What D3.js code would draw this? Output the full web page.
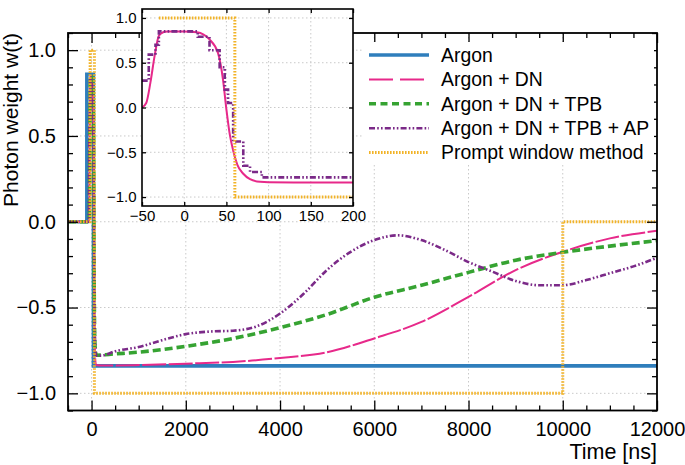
<!DOCTYPE html>
<html><head><meta charset="utf-8">
<script src="https://cdn.jsdelivr.net/npm/d3@7"></script>
<style>
html,body{margin:0;padding:0;background:#fff;}
svg{display:block;}
text{font-family:'Liberation Sans',Arial,Helvetica,sans-serif;fill:#000;}
</style>
</head><body><div id="chart"></div>
<script>
// ---------- data ----------
const seriesNames = ["Argon", "Argon + DN", "Argon + DN + TPB", "Argon + DN + TPB + AP", "Prompt window method"];

const argonT = [-500, -100, 40, 12000];
const argonW = [0, 0.86, -0.84, -0.84];

const dnT = [-500, -50, -45, -40, -35, -30, -25, -20, 0, 15, 30, 40, 46, 50, 54, 58, 63, 70, 78, 90, 100, 200, 1000, 2000, 3000, 4000, 5000, 6000, 7000, 8000, 9000, 10000, 11000, 12000];
const dnW = [0, 0, 0.05, 0.28, 0.58, 0.80, 0.84, 0.85, 0.85, 0.84, 0.76, 0.61, 0.31, -0.02, -0.30, -0.48, -0.64, -0.74, -0.80, -0.83, -0.835, -0.838, -0.835, -0.827, -0.817, -0.794, -0.76, -0.68, -0.584, -0.438, -0.282, -0.175, -0.097, -0.053];

const tpbT = [-500, -50, -45, -40, -35, -30, -25, -20, 15, 30, 40, 46, 50, 57, 70, 90, 100, 500, 1000, 2000, 3000, 4000, 5000, 6000, 7000, 8000, 9000, 10000, 11000, 12000];
const tpbW = [0, 0, 0.05, 0.28, 0.58, 0.80, 0.84, 0.85, 0.84, 0.76, 0.61, 0.31, 0, -0.42, -0.70, -0.77, -0.778, -0.77, -0.76, -0.726, -0.68, -0.617, -0.54, -0.44, -0.37, -0.295, -0.224, -0.178, -0.142, -0.11];

const apT = [-500, -56, -52, -42, -34, -30, 16, 30, 42, 48, 52, 58, 70, 78, 92, 200, 500, 1000, 1500, 2000, 2500, 3000, 3500, 4000, 4500, 5000, 5500, 6000, 6500, 7000, 7500, 8000, 8500, 9000, 9500, 10000, 10500, 11000, 11500, 12000];
const apW = [0, 0, 0.30, 0.59, 0.70, 0.85, 0.79, 0.64, 0.45, 0.20, 0.05, -0.38, -0.65, -0.72, -0.78, -0.78, -0.755, -0.73, -0.69, -0.655, -0.64, -0.635, -0.61, -0.535, -0.42, -0.28, -0.175, -0.107, -0.079, -0.107, -0.165, -0.235, -0.29, -0.345, -0.37, -0.37, -0.34, -0.30, -0.26, -0.21];

const promptT = [-500, -30, 60, 10000, 12000];
const promptW = [0, 1, -1, 0, 0];

const xTicksMain = [0, 2000, 4000, 6000, 8000, 10000, 12000];
const yTicksMain = [-1, -0.5, 0, 0.5, 1];
const xTicksInset = [-50, 0, 50, 100, 150, 200];
const yTicksInset = [-1, -0.5, 0, 0.5, 1];
const xLabel = "Time [ns]";
const yLabel = "Photon weight w(t)";

// ---------- styles ----------
const styles = [
  {color: "#2f7ebc", width: 3.6, dashMain: null, dashLeg: null, curve: d3.curveStepAfter},
  {color: "#e7298a", width: 2.0, dashMain: "24,2.5", dashLeg: "24,7", curve: d3.curveMonotoneX},
  {color: "#36a332", width: 3.6, dashMain: "8,4", dashLeg: "7,4.5", curve: d3.curveMonotoneX},
  {color: "#7b2a88", width: 2.6, dashMain: "6,2.2,1.6,2.2,1.6,2.2", dashLeg: "6,2.2,1.6,2.2,1.6,2.2", curve: d3.curveMonotoneX},
  {color: "#f2b327", width: 3.0, dashMain: "1.6,1.4", dashLeg: "1.6,1.4", curve: d3.curveStepAfter}
];
const toPts = (T, Wv) => T.map((t, i) => ({t, w: Wv[i]}));
const series = [
  toPts(argonT, argonW), toPts(dnT, dnW), toPts(tpbT, tpbW), toPts(apT, apW), toPts(promptT, promptW)
];

const W = 685, H = 465;
const svg = d3.select("#chart").append("svg").attr("width", W).attr("height", H);
const gridCol = "#c9c9c9";

// ---------- main axes ----------
const M = {left: 68, right: 657, top: 33, bottom: 410.5};
const x = d3.scaleLinear().domain([-500, 12000]).range([M.left, M.right]);
const y = d3.scaleLinear().domain([-1.1, 1.1]).range([M.bottom, M.top]);

svg.append("defs").append("clipPath").attr("id", "clipMain")
  .append("rect").attr("x", M.left).attr("y", M.top).attr("width", M.right - M.left).attr("height", M.bottom - M.top);

const grid = svg.append("g");
grid.selectAll(".gx").data(xTicksMain.filter(v => v < 12000)).join("line")
  .attr("x1", d => x(d)).attr("x2", d => x(d)).attr("y1", M.top).attr("y2", M.bottom)
  .attr("stroke", gridCol).attr("stroke-width", 1).attr("stroke-dasharray", "1.5,2.5");
grid.selectAll(".gy").data(yTicksMain).join("line")
  .attr("y1", d => y(d)).attr("y2", d => y(d)).attr("x1", M.left).attr("x2", M.right)
  .attr("stroke", gridCol).attr("stroke-width", 1).attr("stroke-dasharray", "1.5,2.5");

const gLines = svg.append("g").attr("clip-path", "url(#clipMain)");
series.forEach((pts, i) => {
  const st = styles[i];
  gLines.append("path").datum(pts)
    .attr("d", d3.line().x(d => x(d.t)).y(d => y(d.w)).curve(st.curve))
    .attr("fill", "none").attr("stroke", st.color).attr("stroke-width", st.width)
    .attr("stroke-dasharray", st.dashMain);
});

// axes (inward ticks)
const xMinor = d3.range(-500, 12001, 500).filter(v => !xTicksMain.includes(v));
const yMinor = d3.range(-11, 12, 1).map(v => v / 10).filter(v => Math.abs(v * 2 - Math.round(v * 2)) > 1e-9);
const fmtX = d3.format("d"), fmtY = d3.format(".1f");
function styleAxis(g, fs) {
  g.select(".domain").remove();
  g.selectAll(".tick line").attr("stroke", "#000").attr("stroke-width", 1.3);
  g.selectAll("text").style("font-size", fs + "px");
}
svg.append("g").attr("transform", `translate(0,${M.bottom})`)
  .call(d3.axisBottom(x).tickValues(xTicksMain).tickSize(-10).tickPadding(11).tickFormat(fmtX)).call(g => styleAxis(g, 20));
svg.append("g").attr("transform", `translate(0,${M.bottom})`)
  .call(d3.axisBottom(x).tickValues(xMinor).tickSize(-5).tickFormat("")).call(g => styleAxis(g, 20));
svg.append("g").attr("transform", `translate(0,${M.top})`)
  .call(d3.axisTop(x).tickValues(xTicksMain).tickSize(-10).tickFormat("")).call(g => styleAxis(g, 20));
svg.append("g").attr("transform", `translate(0,${M.top})`)
  .call(d3.axisTop(x).tickValues(xMinor).tickSize(-5).tickFormat("")).call(g => styleAxis(g, 20));
svg.append("g").attr("transform", `translate(${M.left},0)`)
  .call(d3.axisLeft(y).tickValues(yTicksMain).tickSize(-10).tickPadding(12).tickFormat(fmtY)).call(g => styleAxis(g, 20));
svg.append("g").attr("transform", `translate(${M.left},0)`)
  .call(d3.axisLeft(y).tickValues(yMinor).tickSize(-5).tickFormat("")).call(g => styleAxis(g, 20));
svg.append("g").attr("transform", `translate(${M.right},0)`)
  .call(d3.axisRight(y).tickValues(yTicksMain).tickSize(-10).tickFormat("")).call(g => styleAxis(g, 20));
svg.append("g").attr("transform", `translate(${M.right},0)`)
  .call(d3.axisRight(y).tickValues(yMinor).tickSize(-5).tickFormat("")).call(g => styleAxis(g, 20));

svg.append("rect").attr("x", M.left).attr("y", M.top).attr("width", M.right - M.left).attr("height", M.bottom - M.top)
  .attr("fill", "none").attr("stroke", "#000").attr("stroke-width", 1.8);

svg.append("text").attr("x", M.right).attr("y", 459).attr("text-anchor", "end")
  .style("font-size", "21.5px").text(xLabel);
svg.append("text").attr("transform", `translate(18,${M.top}) rotate(-90)`).attr("text-anchor", "end")
  .style("font-size", "21px").text(yLabel);

// ---------- legend ----------
const leg = svg.append("g");
leg.append("rect").attr("x", 362).attr("y", 42).attr("width", 292).attr("height", 123).attr("fill", "#fff");
seriesNames.forEach((name, i) => {
  const st = styles[i];
  const yy = 55 + i * 24.4;
  leg.append("line").attr("x1", 369).attr("x2", 429).attr("y1", yy).attr("y2", yy)
    .attr("stroke", st.color).attr("stroke-width", st.width).attr("stroke-dasharray", st.dashLeg);
  leg.append("text").attr("x", 441).attr("y", yy).attr("dy", "0.35em").style("font-size", "19.4px").text(name);
});

// ---------- inset ----------
const I = {left: 142, right: 353, top: 9, bottom: 206};
const xi = d3.scaleLinear().domain([-50, 200]).range([I.left, I.right]);
const yi = d3.scaleLinear().domain([-1.1, 1.1]).range([I.bottom, I.top]);
const ins = svg.append("g");
ins.append("rect").attr("x", I.left).attr("y", I.top).attr("width", I.right - I.left).attr("height", I.bottom - I.top).attr("fill", "#fff");
svg.select("defs").append("clipPath").attr("id", "clipInset")
  .append("rect").attr("x", I.left).attr("y", I.top).attr("width", I.right - I.left).attr("height", I.bottom - I.top);
ins.selectAll(".igx").data(xTicksInset.filter(v => v > -50 && v < 200)).join("line")
  .attr("x1", d => xi(d)).attr("x2", d => xi(d)).attr("y1", I.top).attr("y2", I.bottom)
  .attr("stroke", gridCol).attr("stroke-width", 1).attr("stroke-dasharray", "1.5,2.5");
ins.selectAll(".igy").data(yTicksInset).join("line")
  .attr("y1", d => yi(d)).attr("y2", d => yi(d)).attr("x1", I.left).attr("x2", I.right)
  .attr("stroke", gridCol).attr("stroke-width", 1).attr("stroke-dasharray", "1.5,2.5");
const insetSeries = [1, 3, 4];
const insetCurves = {1: d3.curveMonotoneX, 3: d3.curveStepAfter, 4: d3.curveStepAfter};
const gi = ins.append("g").attr("clip-path", "url(#clipInset)");
insetSeries.forEach(i => {
  const st = styles[i];
  gi.append("path").datum(series[i].filter(d => d.t >= -60))
    .attr("d", d3.line().x(d => xi(d.t)).y(d => yi(d.w)).curve(insetCurves[i]))
    .attr("fill", "none").attr("stroke", st.color).attr("stroke-width", st.width)
    .attr("stroke-dasharray", i === 1 ? null : st.dashMain);
});
ins.append("g").attr("transform", `translate(0,${I.bottom})`)
  .call(d3.axisBottom(xi).tickValues(xTicksInset).tickSize(-4).tickPadding(4.5).tickFormat(d3.format("d"))).call(g => styleAxis(g, 15));
ins.append("g").attr("transform", `translate(${I.left},0)`)
  .call(d3.axisLeft(yi).tickValues(yTicksInset).tickSize(-4).tickPadding(5.5).tickFormat(fmtY)).call(g => styleAxis(g, 15));
ins.append("g").attr("transform", `translate(0,${I.top})`)
  .call(d3.axisTop(xi).tickValues(xTicksInset).tickSize(-4).tickFormat("")).call(g => styleAxis(g, 15));
ins.append("g").attr("transform", `translate(${I.right},0)`)
  .call(d3.axisRight(yi).tickValues(yTicksInset).tickSize(-4).tickFormat("")).call(g => styleAxis(g, 15));
ins.append("rect").attr("x", I.left).attr("y", I.top).attr("width", I.right - I.left).attr("height", I.bottom - I.top)
  .attr("fill", "none").attr("stroke", "#000").attr("stroke-width", 1.6);
</script>
</body></html>
